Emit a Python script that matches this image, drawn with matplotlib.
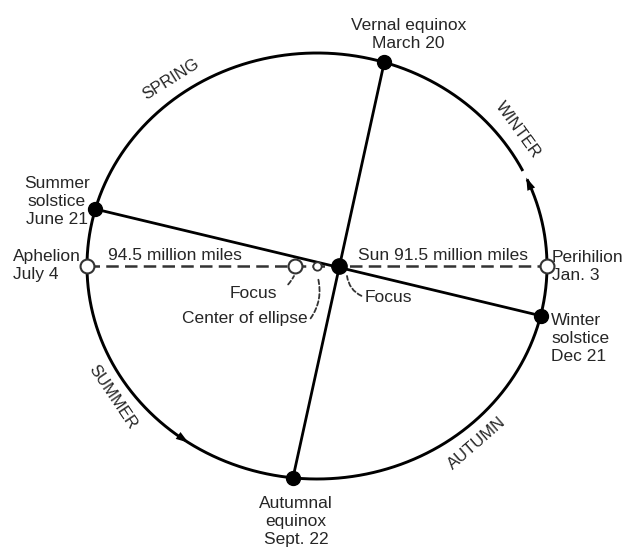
import matplotlib
matplotlib.use("Agg")
import matplotlib.pyplot as plt
import numpy as np

# Orbit diagram geometry (drawing units = pixels of the 628x550 figure)
orbit_center = (317, 266)
semi_major = 230
semi_minor = 213
focus_offset = 22

# events on the orbit, given by their eccentric-anomaly angle (degrees)
event_names = ["Vernal equinox\nMarch 20", "Summer\nsolstice\nJune 21",
               "Autumnal\nequinox\nSept. 22", "Winter\nsolstice\nDec 21"]
event_angles = [73, 164.5, 264, 346.5]
apsis_names = ["Aphelion\nJuly 4", "Perihilion\nJan. 3"]
apsis_angles = [180, 0]
distances = ["94.5 million miles", "Sun 91.5 million miles"]
seasons = ["SPRING", "WINTER", "SUMMER", "AUTUMN"]
season_angles = [126, 36, 214.5, 310]
season_rot = [32, -54, -56, 41]
arrow_angles = [22.5, 234]

plt.rcParams['font.family'] = ['Liberation Sans', 'DejaVu Sans']
FS = 12.5
LS = 1.25
TXT = '#262626'


def on_orbit(t, grow=0.0):
    t = np.radians(t)
    cx, cy = orbit_center
    return cx + (semi_major + grow) * np.cos(t), cy - (semi_minor + grow) * np.sin(t)


fig = plt.figure(figsize=(6.28, 5.5), dpi=100)
ax = fig.add_axes([0, 0, 1, 1])
ax.set_xlim(0, 628)
ax.set_ylim(550, 0)
ax.axis('off')

# orbit, with a small break before the upper arrow
t = np.linspace(26.5, 26.5 + 360 - 2.5, 800)
x, y = on_orbit(t)
ax.plot(x, y, color='black', lw=2.1, solid_capstyle='butt', zorder=2)

# direction arrows
for a in arrow_angles:
    x0, y0 = on_orbit(a - 3.5)
    x1, y1 = on_orbit(a + 2.0)
    ax.annotate('', xy=(x1, y1), xytext=(x0, y0),
                arrowprops=dict(arrowstyle='-|>,head_length=0.9,head_width=0.3',
                                color='black', lw=0, shrinkA=0, shrinkB=0), zorder=3)

cx, cy = orbit_center
sun = (cx + focus_offset, cy)
focus2 = (cx - focus_offset, cy)
aph = on_orbit(apsis_angles[0])
per = on_orbit(apsis_angles[1])

# major axis (dashed)
ax.plot([aph[0], per[0]], [cy, cy], color='#333333', lw=1.8,
        dashes=(5, 2.5), zorder=1)

# lines through the sun
pts = [on_orbit(a) for a in event_angles]
ax.plot([pts[0][0], pts[2][0]], [pts[0][1], pts[2][1]], color='black', lw=2, zorder=2)
ax.plot([pts[1][0], pts[3][0]], [pts[1][1], pts[3][1]], color='black', lw=2, zorder=2)

for p in pts:
    ax.plot(*p, 'o', color='black', ms=10, zorder=4)
ax.plot(*sun, 'o', color='black', ms=11, zorder=4)
for p in (aph, per, focus2):
    ax.plot(*p, 'o', mfc='white', mec='#333333', mew=1.5, ms=10, zorder=4)
ax.plot(cx, cy, 'o', mfc='white', mec='#333333', mew=1.3, ms=6, zorder=4)

# event labels
ax.text(pts[0][0] + 24, pts[0][1] - 28, event_names[0], ha='center', va='center',
        fontsize=FS, color=TXT, linespacing=LS)
ax.text(57, pts[1][1] - 8, event_names[1], ha='center', va='center',
        fontsize=FS, color=TXT, linespacing=LS)
ax.text(pts[2][0] + 3, pts[2][1] + 44, event_names[2], ha='center', va='center',
        fontsize=FS, color=TXT, linespacing=LS)
ax.text(551, pts[3][1] + 23, event_names[3], ha='left', va='center',
        fontsize=FS, color=TXT, linespacing=LS)
ax.text(13, cy, apsis_names[0], ha='left', va='center',
        fontsize=FS, color=TXT, linespacing=LS)
ax.text(552, cy, apsis_names[1], ha='left', va='center',
        fontsize=FS, color=TXT, linespacing=LS)

ax.text(175, cy - 11, distances[0], ha='center', va='center', fontsize=FS, color=TXT)
ax.text(443, cy - 11, distances[1], ha='center', va='center', fontsize=FS, color=TXT)

# season names along the orbit
for name, a, r in zip(seasons, season_angles, season_rot):
    sx, sy = on_orbit(a, grow=18)
    ax.text(sx, sy, name, ha='center', va='center', rotation=r,
            fontsize=FS - 0.5, color=TXT)

# leader labels
ax.annotate('Focus', xy=(focus2[0] - 1, cy + 10), xytext=(253, 293),
            ha='center', va='center', fontsize=FS, color=TXT,
            arrowprops=dict(arrowstyle='-', color='#333333', lw=1.3, ls=(0, (2.5, 1.5)),
                            shrinkA=8, shrinkB=0, connectionstyle='arc3,rad=0.4'))
ax.annotate('Center of ellipse', xy=(cx + 1, cy + 12), xytext=(245, 319),
            ha='center', va='center', fontsize=FS, color=TXT,
            arrowprops=dict(arrowstyle='-', color='#333333', lw=1.3, ls=(0, (2.5, 1.5)),
                            shrinkA=0, shrinkB=0, connectionstyle='arc3,rad=0.25',
                            relpos=(1.0, 0.3)))
ax.annotate('Focus', xy=(sun[0] + 8, cy + 10), xytext=(388, 297),
            ha='center', va='center', fontsize=FS, color=TXT,
            arrowprops=dict(arrowstyle='-', color='#333333', lw=1.3, ls=(0, (2.5, 1.5)),
                            shrinkA=0, shrinkB=0, connectionstyle='arc3,rad=-0.3',
                            relpos=(0.0, 0.5)))

fig.savefig('out.png', dpi=100, facecolor='white')
